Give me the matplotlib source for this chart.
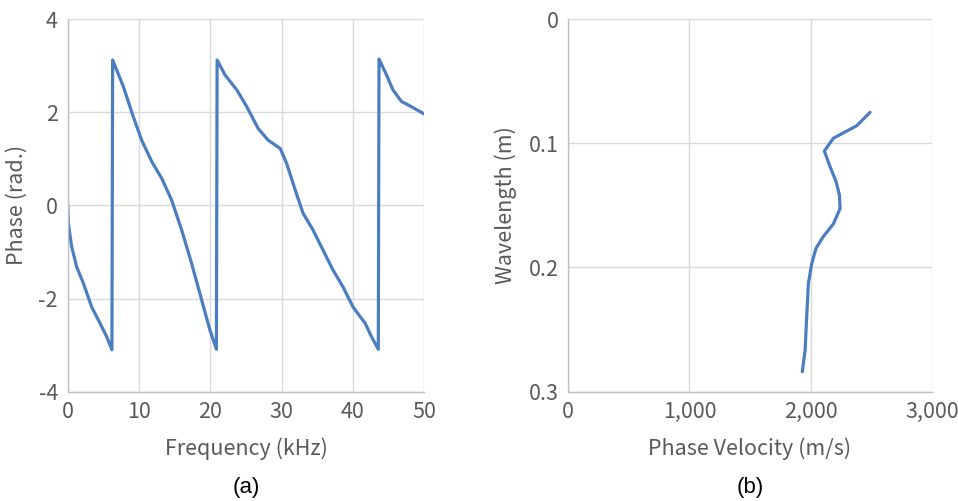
import matplotlib

matplotlib.use("Agg", force=True)
import matplotlib.pyplot as plt
from matplotlib.ticker import FuncFormatter

plt.rcParams["font.family"] = ["Noto Sans CJK KR", "DejaVu Sans"]
plt.rcParams["axes.unicode_minus"] = False

# (a) phase spectrum
freq_khz = [0.0, 0.09, 0.56, 1.26, 2.19, 3.36, 4.53, 5.47, 6.2,
            6.3, 7.8, 9.2, 10.37, 11.78, 13.18, 14.58, 15.98, 17.38, 18.78, 19.95, 20.85,
            20.95, 22.05, 23.7, 25.1, 26.7, 28.1, 29.8, 30.7, 31.9, 33.0, 34.4, 35.8,
            37.2, 38.6, 40.0, 41.7, 42.6, 43.55,
            43.65, 44.7, 45.6, 46.8, 48.4, 50.0]
phase_rad = [0.0, -0.39, -0.89, -1.32, -1.67, -2.18, -2.53, -2.82, -3.1,
             3.12, 2.55, 1.90, 1.40, 0.94, 0.58, 0.11, -0.53, -1.25, -2.03, -2.68, -3.09,
             3.12, 2.80, 2.48, 2.12, 1.65, 1.40, 1.22, 0.90, 0.33, -0.17, -0.53, -0.96,
             -1.39, -1.75, -2.18, -2.53, -2.82, -3.09,
             3.14, 2.80, 2.48, 2.23, 2.10, 1.96]

# (b) dispersion curve
velocity_ms = [2491, 2381, 2188, 2114, 2161, 2211, 2238, 2244, 2188, 2106,
               2045, 2010, 1982, 1968, 1955, 1932]
wavelength_m = [0.0751, 0.0859, 0.0960, 0.1063, 0.1189, 0.131, 0.1417, 0.1524,
                0.165, 0.175, 0.1846, 0.1967, 0.2128, 0.2396, 0.2665, 0.2839]

LINE = "#4a7ebf"
GRID = "#d9d9d9"
TEXT = "#595959"
FS = 15.5


def _style(ax):
    ax.grid(True, color=GRID, linewidth=1.0)
    ax.set_axisbelow(True)
    for side in ("top", "right"):
        ax.spines[side].set_visible(False)
    for side in ("left", "bottom"):
        ax.spines[side].set_color("#bfbfbf")
        ax.spines[side].set_linewidth(1.0)
    ax.tick_params(length=0, labelsize=FS, labelcolor=TEXT, pad=7)


fig = plt.figure(figsize=(9.58, 5.01), dpi=100)
ax1 = fig.add_axes([67.7 / 958, 1 - 391.7 / 501, 356.6 / 958, 372.7 / 501])
ax2 = fig.add_axes([568.3 / 958, 1 - 391.7 / 501, 363.4 / 958, 372.7 / 501])

ax1.plot(freq_khz, phase_rad, color=LINE, linewidth=2.3,
         solid_joinstyle="round", solid_capstyle="round")
ax1.set_xlim(0, 50)
ax1.set_ylim(-4, 4)
ax1.set_xticks(range(0, 51, 10))
ax1.set_yticks(range(-4, 5, 2))
_style(ax1)
ax1.set_xlabel("Frequency (kHz)", fontsize=FS, color=TEXT, labelpad=10)
ax1.set_ylabel("Phase (rad.)", fontsize=FS, color=TEXT, labelpad=8)

ax2.plot(velocity_ms, wavelength_m, color=LINE, linewidth=2.3,
         solid_joinstyle="round", solid_capstyle="round")
ax2.set_xlim(0, 3000)
ax2.set_ylim(0.3, 0)
ax2.set_xticks(range(0, 3001, 1000))
ax2.set_yticks([0, 0.1, 0.2, 0.3])
ax2.xaxis.set_major_formatter(FuncFormatter(lambda v, _: f"{v:,.0f}"))
ax2.yaxis.set_major_formatter(FuncFormatter(lambda v, _: "0" if v == 0 else f"{v:.1f}"))
_style(ax2)
ax2.set_xlabel("Phase Velocity (m/s)", fontsize=FS, color=TEXT, labelpad=10)
ax2.set_ylabel("Wavelength (m)", fontsize=FS, color=TEXT, labelpad=8)

fig.text(246 / 958, 1 - 487 / 501, "(a)", ha="center", va="center",
         fontsize=16, family="Liberation Sans", color="black")
fig.text(750 / 958, 1 - 487 / 501, "(b)", ha="center", va="center",
         fontsize=16, family="Liberation Sans", color="black")

fig.savefig("out.png", dpi=100)
